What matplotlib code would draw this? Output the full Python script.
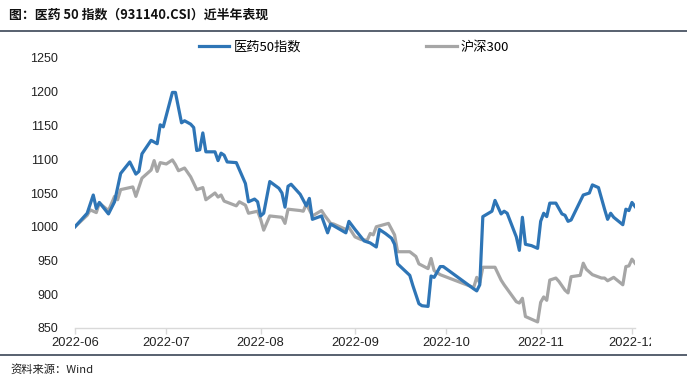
import matplotlib
matplotlib.use("Agg")
import matplotlib.pyplot as plt
import pandas as pd
from matplotlib.lines import Line2D
from matplotlib.transforms import Bbox, TransformedBbox

# ---- data ----
med_dates = ["2022-06-01", "2022-06-05", "2022-06-07", "2022-06-08", "2022-06-09", "2022-06-12",
             "2022-06-14", "2022-06-16", "2022-06-19", "2022-06-21", "2022-06-22", "2022-06-23",
             "2022-06-26", "2022-06-28", "2022-06-29", "2022-06-30", "2022-07-03", "2022-07-04",
             "2022-07-06", "2022-07-07", "2022-07-09", "2022-07-10", "2022-07-11", "2022-07-12",
             "2022-07-13", "2022-07-14", "2022-07-17", "2022-07-18", "2022-07-19", "2022-07-20",
             "2022-07-21", "2022-07-24", "2022-07-27", "2022-07-28", "2022-07-30", "2022-07-31",
             "2022-08-01", "2022-08-02", "2022-08-04", "2022-08-07", "2022-08-08", "2022-08-09",
             "2022-08-10", "2022-08-11", "2022-08-14", "2022-08-16", "2022-08-17", "2022-08-18",
             "2022-08-21", "2022-08-23", "2022-08-24", "2022-08-29", "2022-08-30", "2022-09-01",
             "2022-09-04", "2022-09-06", "2022-09-08", "2022-09-09", "2022-09-11", "2022-09-13",
             "2022-09-14", "2022-09-15", "2022-09-19", "2022-09-20", "2022-09-22", "2022-09-23",
             "2022-09-25", "2022-09-26", "2022-09-27", "2022-09-28", "2022-09-29", "2022-09-30",
             "2022-10-10", "2022-10-11", "2022-10-12", "2022-10-13", "2022-10-16", "2022-10-17",
             "2022-10-19", "2022-10-20", "2022-10-21", "2022-10-24", "2022-10-25", "2022-10-26",
             "2022-10-27", "2022-10-29", "2022-10-31", "2022-11-01", "2022-11-02", "2022-11-03",
             "2022-11-04", "2022-11-06", "2022-11-08", "2022-11-09", "2022-11-10", "2022-11-11",
             "2022-11-15", "2022-11-17", "2022-11-18", "2022-11-20", "2022-11-22", "2022-11-23",
             "2022-11-24", "2022-11-25", "2022-11-28", "2022-11-29", "2022-11-30", "2022-12-01",
             "2022-12-02"]
med_values = [1000, 1020, 1047, 1027, 1036, 1019,
              1037, 1079, 1096, 1078, 1082, 1108,
              1128, 1123, 1151, 1148, 1199, 1199,
              1154, 1157, 1152, 1147, 1113, 1114,
              1139, 1111, 1111, 1098, 1109, 1106,
              1096, 1095, 1064, 1037, 1041, 1037,
              1016, 1020, 1067, 1057, 1050, 1029,
              1060, 1063, 1048, 1031, 1042, 1011,
              1016, 991, 1004, 991, 1008, 996,
              979, 976, 970, 996, 990, 983,
              974, 945, 928, 913, 886, 883,
              882, 927, 925, 933, 941, 941,
              908, 905, 914, 1015, 1023, 1039,
              1019, 1023, 1020, 985, 965, 1014,
              974, 972, 968, 1008, 1020, 1015,
              1035, 1035, 1019, 1017, 1008, 1010,
              1047, 1050, 1062, 1058, 1026, 1011,
              1020, 1014, 1003, 1026, 1024, 1036,
              1030]

hs_dates = ["2022-06-01", "2022-06-05", "2022-06-06", "2022-06-08", "2022-06-09", "2022-06-12",
            "2022-06-14", "2022-06-15", "2022-06-16", "2022-06-20", "2022-06-21", "2022-06-23",
            "2022-06-26", "2022-06-27", "2022-06-28", "2022-06-29", "2022-07-01", "2022-07-03",
            "2022-07-04", "2022-07-05", "2022-07-07", "2022-07-09", "2022-07-11", "2022-07-13",
            "2022-07-14", "2022-07-17", "2022-07-18", "2022-07-19", "2022-07-20", "2022-07-24",
            "2022-07-25", "2022-07-27", "2022-07-28", "2022-07-31", "2022-08-01", "2022-08-02",
            "2022-08-04", "2022-08-08", "2022-08-09", "2022-08-10", "2022-08-14", "2022-08-15",
            "2022-08-16", "2022-08-18", "2022-08-21", "2022-08-22", "2022-08-24", "2022-08-25",
            "2022-08-29", "2022-08-30", "2022-09-01", "2022-09-03", "2022-09-05", "2022-09-06",
            "2022-09-07", "2022-09-08", "2022-09-12", "2022-09-14", "2022-09-15", "2022-09-19",
            "2022-09-21", "2022-09-22", "2022-09-25", "2022-09-26", "2022-09-27", "2022-09-29",
            "2022-10-10", "2022-10-11", "2022-10-12", "2022-10-13", "2022-10-17", "2022-10-19",
            "2022-10-20", "2022-10-24", "2022-10-25", "2022-10-26", "2022-10-27", "2022-10-31",
            "2022-11-01", "2022-11-02", "2022-11-03", "2022-11-04", "2022-11-06", "2022-11-07",
            "2022-11-09", "2022-11-10", "2022-11-11", "2022-11-14", "2022-11-15", "2022-11-16",
            "2022-11-18", "2022-11-21", "2022-11-22", "2022-11-23", "2022-11-25", "2022-11-28",
            "2022-11-29", "2022-11-30", "2022-12-01", "2022-12-02"]
hs_values = [1000, 1017, 1025, 1021, 1035, 1024,
             1045, 1040, 1055, 1059, 1045, 1072,
             1084, 1098, 1082, 1095, 1093, 1099,
             1092, 1083, 1087, 1074, 1055, 1058,
             1040, 1050, 1044, 1047, 1038, 1031,
             1037, 1032, 1020, 1023, 1011, 995,
             1016, 1014, 1005, 1026, 1024, 1023,
             1034, 1016, 1024, 1017, 1005, 1004,
             996, 999, 985, 981, 980, 990,
             988, 1000, 1005, 988, 963, 963,
             956, 945, 938, 953, 935, 929,
             910, 925, 917, 940, 940, 921,
             914, 889, 887, 894, 867, 859,
             888, 896, 891, 921, 924, 919,
             906, 902, 926, 928, 946, 937,
             929, 924, 924, 920, 925, 914,
             941, 942, 952, 946]

series_names = ["医药50指数", "沪深300"]
x_ticks = ["2022-06-01", "2022-07-01", "2022-08-01", "2022-09-01", "2022-10-01", "2022-11-01", "2022-12-01"]
x_tick_labels = ["2022-06", "2022-07", "2022-08", "2022-09", "2022-10", "2022-11", "2022-12"]
y_ticks = [850, 900, 950, 1000, 1050, 1100, 1150, 1200, 1250]

title_text = "图：医药 50 指数（931140.CSI）近半年表现"
source_text = "资料来源：Wind"

# ---- figure ----
W, H = 687, 382
fig = plt.figure(figsize=(W / 100, H / 100), dpi=100)
cjk = ["Noto Sans CJK SC", "DejaVu Sans"]
num_font = ["Liberation Sans", "Noto Sans CJK SC"]

ax = fig.add_axes([75 / W, 1 - 328 / H, (635 - 75) / W, (328 - 58) / H])

blue = "#2e75b6"
grey = "#a6a6a6"
ax.plot(pd.to_datetime(med_dates), med_values, color=blue, lw=2.3, solid_joinstyle="round", zorder=3)
ax.plot(pd.to_datetime(hs_dates), hs_values, color=grey, lw=2.3, solid_joinstyle="round", zorder=2)

ax.set_xlim(pd.Timestamp("2022-06-01"), pd.Timestamp("2022-12-02"))
ax.set_ylim(850, 1250)
ax.set_yticks(y_ticks)
ax.set_yticklabels([str(v) for v in y_ticks], fontfamily=num_font, fontsize=9, color="#222222")
ax.set_xticks(pd.to_datetime(x_ticks))
ax.set_xticklabels(x_tick_labels, fontfamily=num_font, fontsize=9.3, color="#222222")

for s in ["top", "right", "left"]:
    ax.spines[s].set_visible(False)
ax.spines["bottom"].set_color("#d9d9d9")
ax.spines["bottom"].set_linewidth(1.0)
ax.tick_params(axis="y", length=0, pad=12)
ax.tick_params(axis="x", length=4, color="#d9d9d9", width=1.0, pad=2.5)

# clip the last x label like the reference
clip = TransformedBbox(Bbox([[0, 0], [651 / W, 1]]), fig.transFigure)
for lab in ax.get_xticklabels():
    lab.set_clip_on(True)
    lab.set_clip_box(clip)

# legend
handles = [Line2D([0], [0], color=blue, lw=2.3), Line2D([0], [0], color=grey, lw=2.3)]
fig.legend(handles, series_names, loc="center left", bbox_to_anchor=(199 / W, 1 - 47 / H),
           ncol=2, frameon=False, prop={"family": cjk, "size": 9.5},
           handlelength=2.3, handletextpad=0.3, columnspacing=9.5, borderpad=0, borderaxespad=0)

# title, rules and source
fig.text(9 / W, 1 - 15 / H, title_text, fontfamily=cjk, fontsize=9.3, fontweight="bold",
         color="#111111", ha="left", va="center")
fig.add_artist(Line2D([0, 1], [1 - 30.5 / H, 1 - 30.5 / H], transform=fig.transFigure,
                      color="#3b4656", lw=1.2))
fig.add_artist(Line2D([0, 1], [1 - 355 / H, 1 - 355 / H], transform=fig.transFigure,
                      color="#3b4656", lw=1.2))
fig.text(10 / W, 1 - 369 / H, source_text, fontfamily=cjk, fontsize=8.1, color="#222222",
         ha="left", va="center")

fig.savefig("out.png", dpi=100)
